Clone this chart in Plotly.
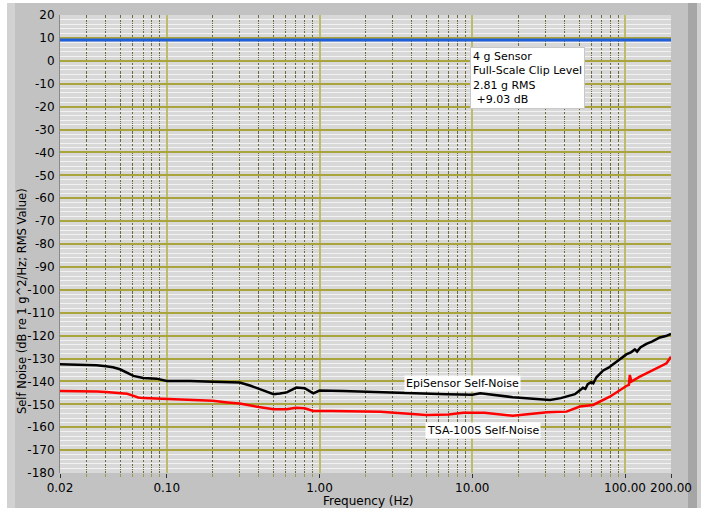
import plotly.graph_objects as go

# ---------------- data ----------------
epi_freq = [0.02, 0.025, 0.0347, 0.040, 0.0444, 0.0494, 0.055, 0.0605, 0.070, 0.0857,
            0.10, 0.142, 0.20, 0.30, 0.35, 0.42, 0.50, 0.55, 0.61, 0.705,
            0.80, 0.91, 1.0, 1.43, 2.6, 5.3, 6.8, 10.0, 11.3, 18.4,
            25.0, 32.3, 38.0, 43.6, 47.0, 50.9, 53.0, 55.0, 57.0, 60.0,
            62.0, 65.0, 72.0, 78.0, 84.0, 92.0, 102.0, 110.0, 116.0, 120.0,
            126.0, 138.0, 150.0, 169.0, 185.0, 200.0]
epi_db = [-132.5, -132.6, -133.0, -133.4, -133.8, -134.7, -136.3, -137.6, -138.5, -138.8,
          -139.8, -139.8, -140.2, -140.5, -141.8, -143.8, -145.6, -145.3, -144.8, -142.7,
          -143.0, -145.2, -144.0, -144.2, -144.8, -145.6, -145.6, -145.8, -145.2, -146.9,
          -147.6, -148.1, -147.3, -146.4, -145.6, -143.8, -142.8, -143.3, -141.2, -140.3,
          -140.8, -138.2, -135.2, -134.0, -132.3, -130.3, -128.2, -127.2, -126.0, -127.0,
          -125.2, -123.6, -122.6, -120.8, -120.2, -119.3]

tsa_freq = [0.02, 0.03, 0.035, 0.04, 0.05, 0.055, 0.06, 0.065, 0.07, 0.10,
            0.15, 0.20, 0.25, 0.30, 0.40, 0.50, 0.61, 0.70, 0.80, 0.91,
            1.2, 2.5, 5.0, 7.0, 8.7, 12.0, 18.4, 20.0, 30.9, 41.4,
            48.1, 50.6, 61.8, 79.5, 102.0, 106.0, 107.5, 110.0, 125.0, 153.0,
            187.0, 200.0]
tsa_db = [-144.2, -144.2, -144.4, -144.6, -145.0, -145.4, -146.2, -147.0, -147.3, -147.8,
          -148.2, -148.5, -149.2, -149.7, -151.2, -152.2, -152.2, -151.5, -151.7, -152.9,
          -152.9, -153.2, -154.7, -154.5, -153.7, -153.7, -155.0, -154.8, -153.5, -153.2,
          -151.7, -151.0, -150.3, -146.7, -142.0, -141.5, -137.2, -140.1, -137.9, -135.0,
          -132.1, -129.2]

clip_freq = [0.02, 200.0]
clip_db = [9.03, 9.03]

x_tickvals = [0.02, 0.1, 1, 10, 100, 200]
x_ticktext = ["0.02", "0.10", "1.00", "10.00", "100.00", "200.00"]
x_minor = [0.03, 0.04, 0.05, 0.06, 0.07, 0.08, 0.09,
           0.2, 0.3, 0.4, 0.5, 0.6, 0.7, 0.8, 0.9,
           2, 3, 4, 5, 6, 7, 8, 9,
           20, 30, 40, 50, 60, 70, 80, 90]
y_tickvals = list(range(-180, 30, 10))
y_ticktext = [str(v) for v in y_tickvals]

# ---------------- geometry helpers ----------------
W, H = 701, 508
L, R, T, B = 60, 671, 15, 473


def px(xp):
    return (xp - L) / (R - L)


def py(yp):
    return (B - yp) / (B - T)


FONT = "DejaVu Sans"

fig = go.Figure()
fig.add_trace(go.Scatter(x=clip_freq, y=clip_db, mode="lines",
                         line=dict(color="#1f5fdc", width=3), showlegend=False))
fig.add_trace(go.Scatter(x=epi_freq, y=epi_db, mode="lines",
                         line=dict(color="#000000", width=2.5), showlegend=False))
fig.add_trace(go.Scatter(x=tsa_freq, y=tsa_db, mode="lines",
                         line=dict(color="#ff0000", width=2.5), showlegend=False))

shapes = [
    dict(type="rect", xref="paper", yref="paper", x0=px(0), x1=px(7), y0=py(H), y1=py(0),
         fillcolor="#ffffff", line_width=0, layer="below"),
    dict(type="rect", xref="paper", yref="paper", x0=px(7), x1=px(15), y0=py(H), y1=py(3),
         fillcolor="#d2d2d2", line_width=0, layer="below"),
    dict(type="rect", xref="paper", yref="paper", x0=px(0), x1=px(W), y0=py(3), y1=py(0),
         fillcolor="#ffffff", line_width=0, layer="below"),
    dict(type="rect", xref="paper", yref="paper", x0=px(688), x1=px(697), y0=py(H), y1=py(3),
         fillcolor="#a6a6a6", line_width=0, layer="below"),
    dict(type="rect", xref="paper", yref="paper", x0=px(697), x1=px(W), y0=py(H), y1=py(3),
         fillcolor="#d0d0d0", line_width=0, layer="below"),
]

annotations = [
    dict(xref="paper", yref="paper", x=px(470), y=py(47), xanchor="left", yanchor="top",
         text="4 g Sensor<br>Full-Scale Clip Level<br>2.81 g RMS<br> +9.03 dB",
         align="left", showarrow=False, bgcolor="#ffffff", bordercolor="#c8c8c8",
         borderwidth=1, borderpad=2, font=dict(family=FONT, size=11, color="#000000")),
    dict(xref="paper", yref="paper", x=px(462), y=py(383), xanchor="center", yanchor="middle",
         text="EpiSensor Self-Noise", showarrow=False, bgcolor="#ffffff",
         borderpad=1, font=dict(family=FONT, size=11, color="#000000")),
    dict(xref="paper", yref="paper", x=px(483), y=py(430), xanchor="center", yanchor="middle",
         text="TSA-100S Self-Noise", showarrow=False, bgcolor="#ffffff",
         borderpad=1, font=dict(family=FONT, size=11, color="#000000")),
    dict(xref="paper", yref="paper", x=px(368), y=py(492), xanchor="center", yanchor="top",
         text="Frequency (Hz)", showarrow=False,
         font=dict(family=FONT, size=12, color="#000000")),
    dict(xref="paper", yref="paper", x=px(22), y=py(301), xanchor="center", yanchor="middle",
         text="Self Noise (dB re 1 g^2/Hz; RMS Value)", textangle=-90, showarrow=False,
         font=dict(family=FONT, size=11.5, color="#000000")),
]

fig.update_layout(
    width=W, height=H,
    margin=dict(l=L, r=W - R, t=T, b=H - B, pad=0, autoexpand=False),
    paper_bgcolor="#c2c2c2",
    plot_bgcolor="#d8d8d8",
    font=dict(family=FONT, size=12, color="#000000"),
    shapes=shapes,
    annotations=annotations,
    showlegend=False,
)

fig.update_xaxes(
    type="log", range=[-1.69897, 2.30103], automargin=False,
    tickmode="array", tickvals=x_tickvals, ticktext=x_ticktext,
    showgrid=True, gridcolor="#bcbc6a", gridwidth=2,
    ticks="outside", ticklen=4, tickcolor="#333333",
    tickfont=dict(family=FONT, size=12, color="#000000"),
    zeroline=False, showline=False,
    minor=dict(tickmode="array", tickvals=x_minor, showgrid=True,
               gridcolor="#6e6c3c", gridwidth=1, griddash="3px,1px",
               ticks="outside", ticklen=3, tickcolor="#9a9a50"),
)

fig.update_yaxes(
    range=[-180, 20], automargin=False,
    tickmode="array", tickvals=y_tickvals, ticktext=y_ticktext,
    showgrid=True, gridcolor="#aaa43c", gridwidth=2,
    ticks="", ticklabelstandoff=2,
    tickfont=dict(family=FONT, size=12, color="#000000"),
    zeroline=False, showline=True, linecolor="#8a8a8a", linewidth=1,
    minor=dict(dtick=2, showgrid=True, gridcolor="#f2f2f2", gridwidth=1),
)

fig.write_html("out.html", config={"displayModeBar": False},
               post_script="document.body.style.margin='0';")
